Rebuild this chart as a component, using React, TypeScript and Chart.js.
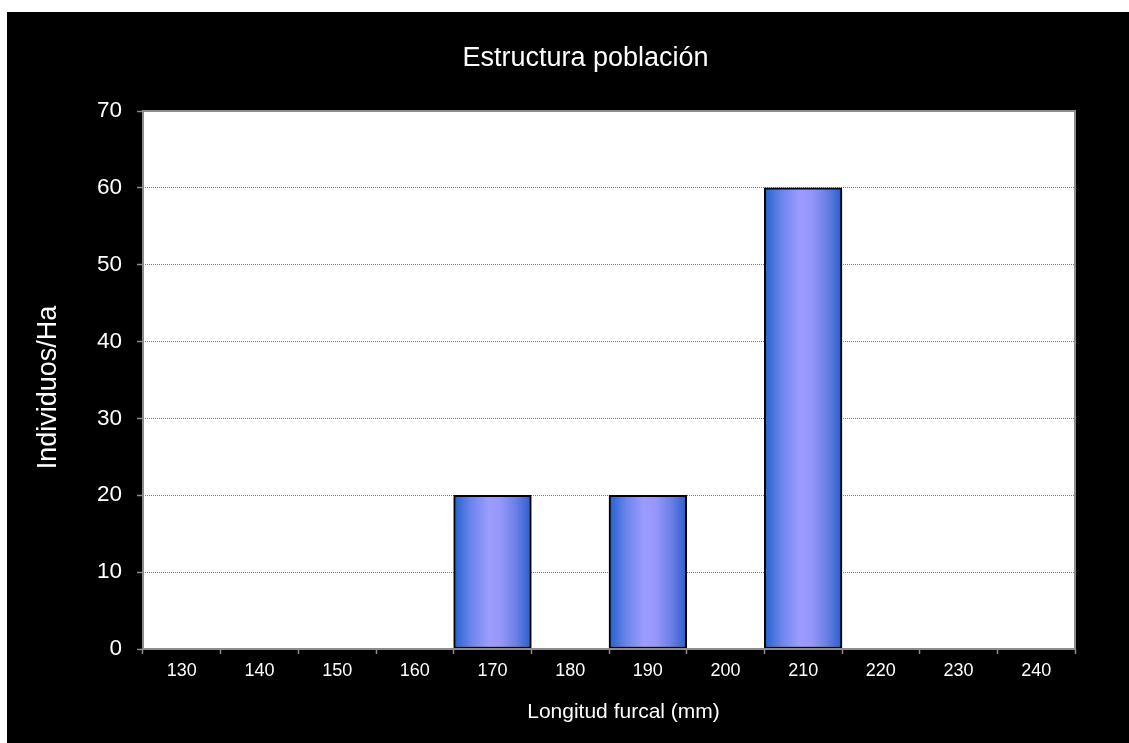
import React, { useEffect, useRef } from "react";
import { Chart, registerables } from "chart.js";

Chart.register(...registerables);

const categories = ["130", "140", "150", "160", "170", "180", "190", "200", "210", "220", "230", "240"];
const individuosHa = [0, 0, 0, 0, 20, 0, 20, 0, 60, 0, 0, 0];
const yTicks = [0, 10, 20, 30, 40, 50, 60, 70];

const chartTitle = "Estructura población";
const yTitle = "Individuos/Ha";
const xTitle = "Longitud furcal (mm)";

const FONT = '"Liberation Sans", Arial, sans-serif';

export default function App() {
  const ref = useRef<HTMLCanvasElement | null>(null);

  useEffect(() => {
    const canvas = ref.current;
    if (!canvas) return;

    const decor = {
      id: "decor",
      beforeDraw(chart: any) {
        const { ctx, chartArea } = chart;
        ctx.save();
        ctx.fillStyle = "#000000";
        ctx.fillRect(0, 0, chart.width, chart.height);
        ctx.fillStyle = "#ffffff";
        ctx.fillRect(chartArea.left, chartArea.top, chartArea.right - chartArea.left, chartArea.bottom - chartArea.top);
        ctx.restore();
      },
      afterDraw(chart: any) {
        const { ctx, chartArea } = chart;
        ctx.save();
        ctx.strokeStyle = "#8c8c8c";
        ctx.lineWidth = 2;
        ctx.strokeRect(chartArea.left, chartArea.top, chartArea.right - chartArea.left, chartArea.bottom - chartArea.top);

        ctx.fillStyle = "#ffffff";
        ctx.textAlign = "center";
        ctx.textBaseline = "alphabetic";
        ctx.font = `27px ${FONT}`;
        ctx.fillText(chartTitle, 578.5, 54);

        ctx.font = `21px ${FONT}`;
        ctx.fillText(xTitle, 616.5, 706);

        ctx.save();
        ctx.translate(49, 375.5);
        ctx.rotate(-Math.PI / 2);
        ctx.font = `27px ${FONT}`;
        ctx.fillText(yTitle, 0, 0);
        ctx.restore();
        ctx.restore();
      },
    };

    const barFill = (c: any) => {
      const chart = c.chart;
      const xs = chart.scales && chart.scales.x;
      if (!xs || c.type !== "data" || !isFinite(xs.width)) return "#9999ff";
      const center = xs.getPixelForValue(c.dataIndex);
      const w = xs.width / categories.length;
      const g = chart.ctx.createLinearGradient(center - w / 2, 0, center + w / 2, 0);
      g.addColorStop(0, "#2460cc");
      g.addColorStop(0.22, "#6a84ec");
      g.addColorStop(0.45, "#9c9cff");
      g.addColorStop(0.6, "#9797fb");
      g.addColorStop(0.8, "#6a80e6");
      g.addColorStop(1, "#2a5ecb");
      return g;
    };

    const chart = new Chart(canvas, {
      type: "bar",
      data: {
        labels: categories,
        datasets: [
          {
            label: yTitle,
            data: individuosHa,
            backgroundColor: barFill,
            borderColor: "#000000",
            borderWidth: 2,
            borderSkipped: false,
            barPercentage: 1,
            categoryPercentage: 1,
          },
        ],
      },
      options: {
        animation: false,
        responsive: false,
        maintainAspectRatio: false,
        layout: { padding: { left: 0, top: 99, right: 54, bottom: 0 } },
        plugins: {
          legend: { display: false },
          title: { display: false },
          tooltip: { enabled: false },
        },
        scales: {
          x: {
            offset: true,
            grid: {
              offset: true,
              drawOnChartArea: false,
              drawTicks: true,
              tickLength: 5,
              tickColor: "#8c8c8c",
              tickWidth: 1.5,
            },
            border: { display: false },
            ticks: {
              color: "#ffffff",
              font: { family: FONT, size: 18 },
              padding: 6,
              maxRotation: 0,
              autoSkip: false,
            },
            afterFit(scale: any) {
              scale.height = 94;
            },
          },
          y: {
            min: 0,
            max: 70,
            afterBuildTicks(scale: any) {
              scale.ticks = yTicks.map((v) => ({ value: v }));
            },
            grid: {
              color: "#7a7a7a",
              lineWidth: 1,
              drawTicks: true,
              tickLength: 6,
              tickColor: "#8c8c8c",
              tickWidth: 1.5,
              tickBorderDash: [],
            },
            border: { display: false, dash: [1, 1] },
            ticks: {
              color: "#ffffff",
              font: { family: FONT, size: 22.5 },
              padding: 15,
            },
            afterFit(scale: any) {
              scale.width = 136;
            },
          },
        },
      },
      plugins: [decor],
    });

    return () => chart.destroy();
  }, []);

  return (
    <div style={{ position: "fixed", left: 7, top: 12, width: 1122, height: 731, background: "#000" }}>
      <canvas ref={ref} width={1122} height={731} style={{ display: "block", width: 1122, height: 731 }} />
    </div>
  );
}
